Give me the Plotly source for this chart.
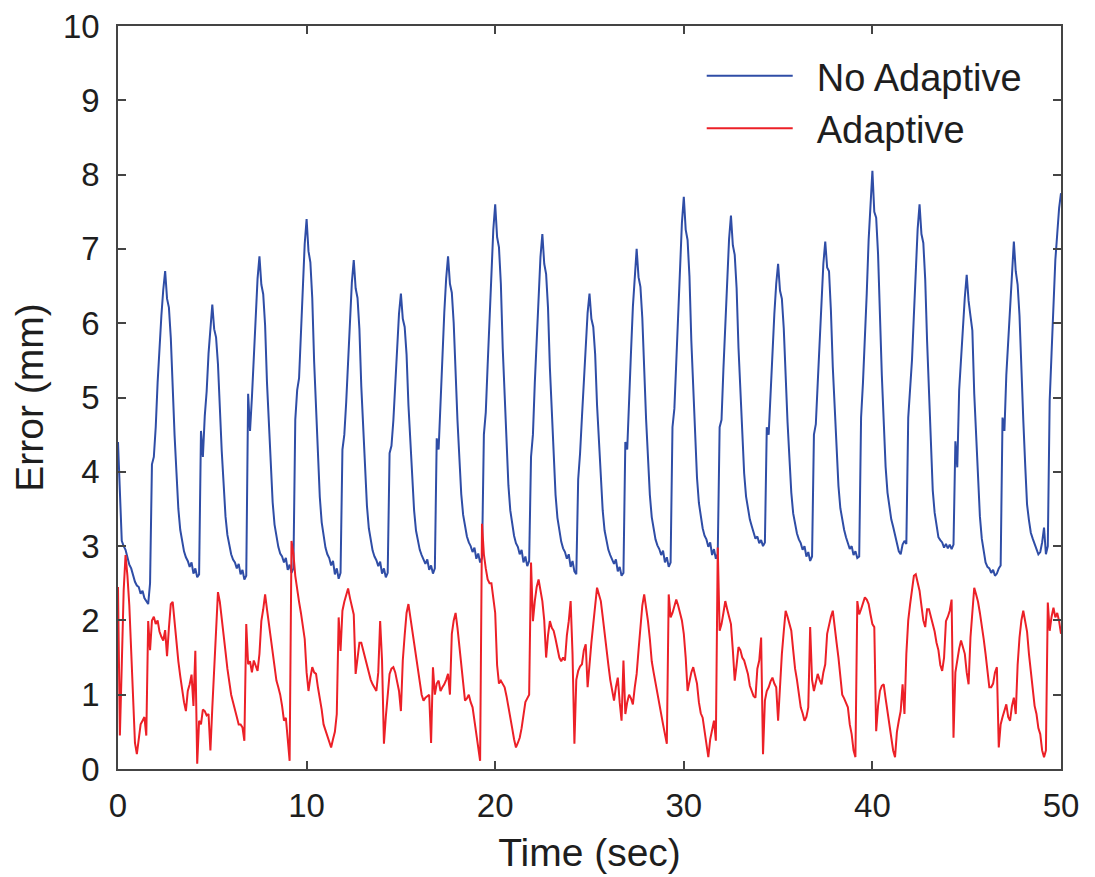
import numpy as np
import plotly.graph_objects as go

SAMPLE_STEP = 0.1  # seconds

# "No Adaptive" error (mm), one row per 2.5 s breathing cycle
no_adaptive_rows = [
    [4.40, 3.60, 3.07, 3.00, 2.95, 2.85, 2.75, 2.70, 2.60, 2.52, 2.47, 2.45, 2.36, 2.40, 2.30, 2.26, 2.22, 2.50, 4.10, 4.20, 4.60, 5.20, 5.70, 6.10, 6.45],
    [6.70, 6.33, 6.21, 5.80, 5.06, 4.49, 3.99, 3.50, 3.22, 3.05, 2.93, 2.85, 2.80, 2.72, 2.78, 2.63, 2.70, 2.58, 2.62, 4.55, 4.20, 4.75, 5.08, 5.59, 5.99],
    [6.25, 5.92, 5.81, 5.45, 4.79, 4.28, 3.84, 3.40, 3.15, 3.00, 2.89, 2.82, 2.78, 2.70, 2.76, 2.62, 2.68, 2.55, 2.60, 5.05, 4.55, 5.00, 5.52, 6.13, 6.60],
    [6.90, 6.52, 6.39, 5.97, 5.20, 4.61, 4.10, 3.59, 3.29, 3.12, 2.99, 2.90, 2.86, 2.78, 2.84, 2.68, 2.75, 2.64, 2.70, 4.70, 5.10, 5.26, 5.88, 6.55, 7.07],
    [7.40, 6.97, 6.82, 6.34, 5.48, 4.81, 4.23, 3.66, 3.32, 3.13, 2.98, 2.89, 2.84, 2.74, 2.80, 2.62, 2.70, 2.56, 2.64, 4.30, 4.50, 4.94, 5.49, 6.09, 6.55],
    [6.85, 6.47, 6.34, 5.92, 5.15, 4.56, 4.05, 3.54, 3.24, 3.07, 2.94, 2.86, 2.81, 2.73, 2.79, 2.63, 2.70, 2.58, 2.64, 4.25, 4.35, 4.69, 5.18, 5.72, 6.13],
    [6.40, 6.06, 5.95, 5.58, 4.90, 4.38, 3.93, 3.48, 3.21, 3.06, 2.95, 2.88, 2.83, 2.76, 2.82, 2.68, 2.74, 2.63, 2.70, 4.45, 4.30, 4.99, 5.54, 6.14, 6.60],
    [6.90, 6.53, 6.41, 6.00, 5.26, 4.69, 4.19, 3.70, 3.42, 3.25, 3.13, 3.05, 3.00, 2.92, 2.98, 2.83, 2.90, 2.78, 2.84, 4.50, 4.80, 5.44, 6.06, 6.74, 7.26],
    [7.60, 7.16, 7.02, 6.53, 5.66, 4.98, 4.40, 3.82, 3.48, 3.28, 3.14, 3.04, 2.99, 2.89, 2.95, 2.78, 2.86, 2.73, 2.80, 4.20, 4.50, 5.20, 5.78, 6.40, 6.89],
    [7.20, 6.80, 6.66, 6.21, 5.40, 4.77, 4.23, 3.69, 3.38, 3.20, 3.06, 2.97, 2.92, 2.83, 2.89, 2.72, 2.80, 2.66, 2.62, 3.90, 4.25, 4.74, 5.22, 5.73, 6.14],
    [6.40, 6.06, 5.95, 5.58, 4.90, 4.38, 3.93, 3.48, 3.21, 3.06, 2.95, 2.88, 2.83, 2.76, 2.82, 2.66, 2.72, 2.60, 2.64, 4.40, 4.30, 5.04, 5.61, 6.22, 6.70],
    [7.00, 6.62, 6.49, 6.07, 5.30, 4.71, 4.20, 3.69, 3.39, 3.22, 3.09, 3.01, 2.96, 2.88, 2.94, 2.78, 2.85, 2.72, 2.78, 4.60, 4.85, 5.47, 6.12, 6.81, 7.35],
    [7.70, 7.26, 7.12, 6.63, 5.76, 5.08, 4.50, 3.92, 3.58, 3.38, 3.24, 3.14, 3.09, 2.99, 3.05, 2.88, 2.96, 2.83, 2.90, 4.60, 4.70, 5.38, 5.98, 6.62, 7.13],
    [7.45, 7.05, 6.92, 6.47, 5.67, 5.05, 4.51, 3.98, 3.67, 3.49, 3.36, 3.27, 3.20, 3.10, 3.13, 3.04, 3.08, 3.00, 3.05, 4.60, 4.50, 5.09, 5.58, 6.12, 6.53],
    [6.80, 6.44, 6.33, 5.93, 5.22, 4.67, 4.19, 3.72, 3.44, 3.28, 3.17, 3.09, 3.04, 2.95, 3.00, 2.86, 2.92, 2.80, 2.86, 4.50, 4.64, 5.19, 5.74, 6.34, 6.80],
    [7.10, 6.75, 6.70, 6.17, 5.41, 4.82, 4.31, 3.81, 3.51, 3.34, 3.22, 3.12, 3.05, 2.96, 3.00, 2.88, 2.93, 2.84, 2.86, 4.73, 5.20, 5.72, 6.40, 7.12, 7.60],
    [8.05, 7.50, 7.42, 6.93, 6.01, 5.30, 4.68, 4.07, 3.72, 3.51, 3.36, 3.26, 3.15, 3.07, 2.93, 2.89, 3.02, 3.07, 3.03, 4.73, 5.10, 5.51, 6.11, 6.76, 7.27],
    [7.60, 7.20, 7.08, 6.59, 5.76, 5.12, 4.35, 3.75, 3.45, 3.25, 3.12, 3.08, 3.05, 2.98, 3.03, 2.97, 3.02, 2.96, 3.02, 4.41, 4.06, 5.10, 5.55, 6.00, 6.35],
    [6.65, 6.30, 6.10, 5.90, 5.05, 4.45, 3.90, 3.40, 3.10, 2.92, 2.78, 2.72, 2.70, 2.64, 2.68, 2.60, 2.63, 2.70, 2.74, 4.73, 4.55, 5.30, 5.76, 6.30, 6.75],
    [7.10, 6.70, 6.52, 6.10, 5.30, 4.70, 4.10, 3.56, 3.35, 3.18, 3.10, 3.02, 2.95, 2.89, 2.92, 3.05, 3.25, 2.89, 3.00, 4.96, 5.60, 6.30, 6.85, 7.20, 7.55],
    [7.75],
]

# "Adaptive" error (mm), one row per second
adaptive_rows = [
    [2.45, 0.45, 1.40, 2.40, 2.88, 2.60, 2.20, 1.60, 1.00, 0.35],
    [0.20, 0.45, 0.60, 0.65, 0.70, 0.45, 1.99, 1.60, 2.00, 2.05],
    [1.95, 2.00, 1.85, 1.78, 1.73, 1.87, 1.52, 1.90, 2.22, 2.25],
    [1.95, 1.70, 1.45, 1.25, 1.05, 0.90, 0.78, 1.05, 1.14, 1.27],
    [0.85, 1.59, 0.07, 0.65, 0.60, 0.80, 0.78, 0.72, 0.74, 0.25],
    [0.82, 1.40, 1.99, 2.38, 2.25, 2.05, 1.80, 1.58, 1.35, 1.15],
    [1.00, 0.90, 0.78, 0.70, 0.60, 0.60, 0.56, 0.38, 1.95, 1.41],
    [1.45, 1.30, 1.46, 1.38, 1.32, 1.55, 1.99, 2.15, 2.35, 2.15],
    [1.95, 1.75, 1.55, 1.35, 1.19, 1.10, 1.00, 0.85, 0.65, 0.69],
    [0.38, 0.11, 3.07, 2.90, 2.60, 2.40, 2.25, 2.10, 1.95, 1.75],
    [1.30, 1.05, 1.23, 1.37, 1.30, 1.28, 1.10, 0.96, 0.80, 0.60],
    [0.52, 0.45, 0.35, 0.29, 0.40, 0.50, 0.74, 2.04, 1.59, 2.13],
    [2.25, 2.35, 2.43, 2.30, 2.20, 2.08, 1.28, 1.50, 1.70, 1.70],
    [1.60, 1.52, 1.40, 1.28, 1.20, 1.14, 1.10, 1.05, 1.30, 1.99],
    [1.46, 0.34, 0.70, 0.95, 1.28, 1.35, 1.37, 1.30, 1.19, 1.05],
    [0.78, 1.46, 1.80, 2.10, 2.22, 2.05, 1.86, 1.72, 1.50, 1.32],
    [1.15, 1.00, 0.92, 0.96, 0.98, 1.00, 0.35, 1.37, 1.00, 1.15],
    [1.19, 1.05, 1.10, 1.14, 1.20, 1.28, 1.00, 1.82, 2.00, 2.10],
    [1.90, 1.64, 1.40, 1.10, 0.92, 0.95, 1.00, 0.90, 0.83, 0.65],
    [0.47, 0.25, 0.11, 3.30, 2.89, 2.70, 2.55, 2.50, 2.50, 2.30],
    [2.10, 1.40, 1.15, 1.19, 1.15, 1.10, 0.98, 0.85, 0.70, 0.55],
    [0.40, 0.29, 0.35, 0.42, 0.55, 0.70, 0.90, 0.95, 1.00, 2.78],
    [1.99, 2.26, 2.45, 2.55, 2.40, 2.26, 2.00, 1.50, 1.80, 1.99],
    [1.90, 1.86, 1.75, 1.60, 1.50, 1.45, 1.50, 1.46, 1.80, 1.99],
    [2.26, 1.55, 0.34, 1.20, 1.32, 1.38, 1.41, 1.60, 1.68, 1.10],
    [1.46, 1.70, 1.95, 2.20, 2.44, 2.35, 2.26, 2.05, 1.80, 1.60],
    [1.40, 1.20, 1.05, 0.92, 1.10, 1.23, 0.90, 0.65, 1.46, 0.74],
    [0.90, 1.00, 0.95, 0.87, 1.10, 1.28, 1.60, 1.95, 2.20, 2.35],
    [2.20, 1.99, 1.75, 1.45, 1.30, 1.15, 1.00, 0.88, 0.74, 0.60],
    [0.47, 0.34, 2.35, 2.04, 2.10, 2.20, 2.28, 2.20, 2.10, 2.00],
    [1.82, 1.50, 1.05, 1.20, 1.30, 1.37, 1.25, 1.15, 0.90, 0.75],
    [0.69, 0.50, 0.30, 0.16, 0.40, 0.51, 0.65, 0.38, 2.98, 1.86],
    [1.95, 2.10, 2.26, 2.15, 2.05, 1.95, 1.60, 1.19, 1.40, 1.64],
    [1.60, 1.50, 1.46, 1.35, 1.28, 1.12, 1.05, 0.98, 0.96, 1.35],
    [1.46, 1.77, 0.20, 0.92, 1.05, 1.10, 1.18, 1.23, 1.15, 1.10],
    [0.65, 1.20, 1.55, 1.85, 2.13, 2.05, 1.95, 1.86, 1.60, 1.35],
    [1.20, 1.00, 0.83, 0.75, 0.65, 0.70, 0.83, 1.91, 1.20, 1.05],
    [1.15, 1.28, 1.20, 1.14, 1.30, 1.41, 1.82, 1.95, 2.05, 2.13],
    [1.95, 1.70, 1.50, 1.25, 1.00, 0.95, 0.88, 0.83, 0.60, 0.47],
    [0.25, 0.16, 2.26, 2.08, 2.15, 2.25, 2.31, 2.28, 2.22, 2.08],
    [1.95, 1.91, 0.51, 0.85, 1.05, 1.12, 1.14, 0.95, 0.78, 0.60],
    [0.47, 0.25, 0.16, 0.50, 0.65, 0.78, 1.14, 0.74, 1.55, 2.00],
    [2.22, 2.40, 2.60, 2.62, 2.50, 2.40, 2.20, 2.00, 1.91, 2.15],
    [2.15, 2.05, 1.95, 1.85, 1.70, 1.60, 1.40, 1.32, 1.50, 1.99],
    [2.05, 2.13, 2.28, 0.42, 1.30, 1.50, 1.62, 1.73, 1.65, 1.55],
    [1.30, 1.14, 1.77, 2.15, 2.44, 2.35, 2.25, 2.10, 1.95, 1.75],
    [1.55, 1.30, 1.10, 1.10, 1.15, 1.30, 1.37, 0.29, 0.60, 0.70],
    [0.80, 0.87, 0.70, 0.65, 0.85, 0.96, 0.74, 1.40, 1.77, 2.00],
    [2.13, 2.00, 1.85, 1.55, 1.30, 1.05, 0.85, 0.74, 0.55, 0.47],
    [0.25, 0.16, 0.25, 2.24, 1.86, 2.05, 2.17, 2.04, 2.10, 1.99],
    [1.82],
]

x_ticks = [0, 10, 20, 30, 40, 50]
y_ticks = [0, 1, 2, 3, 4, 5, 6, 7, 8, 9, 10]
series_names = ["No Adaptive", "Adaptive"]

no_adaptive = [v for row in no_adaptive_rows for v in row]
adaptive = [v for row in adaptive_rows for v in row]
t_no = np.round(np.arange(len(no_adaptive)) * SAMPLE_STEP, 2)
t_ad = np.round(np.arange(len(adaptive)) * SAMPLE_STEP, 2)

BLUE = "#2F4DA6"
RED = "#EC2027"
AXIS = "#444444"
TEXT = "#1E1E1E"
FONT = "Liberation Sans, Arial, sans-serif"
GAP = "\u2002"  # spacing between legend line sample and label

fig = go.Figure()
fig.add_trace(go.Scatter(x=t_no, y=no_adaptive, mode="lines", name=GAP + series_names[0],
                         line=dict(color=BLUE, width=2)))
fig.add_trace(go.Scatter(x=t_ad, y=adaptive, mode="lines", name=GAP + series_names[1],
                         line=dict(color=RED, width=2)))

axis_common = dict(
    showline=True, linecolor=AXIS, linewidth=1.5, mirror="ticks",
    ticks="inside", ticklen=8, tickwidth=1.5, tickcolor=AXIS,
    showgrid=False, zeroline=False, automargin=False,
    ticklabeloverflow="allow",
    tickfont=dict(family=FONT, size=33, color=TEXT),
)

fig.update_layout(
    width=1095, height=877,
    margin=dict(l=110, r=42, t=18, b=116),
    plot_bgcolor="white", paper_bgcolor="white",
    font=dict(family=FONT, color=TEXT),
    showlegend=True,
    legend=dict(
        x=0.619, y=0.975, xanchor="left", yanchor="top",
        bgcolor="rgba(0,0,0,0)", borderwidth=0,
        font=dict(family=FONT, size=38, color=TEXT),
        itemwidth=86,
    ),
    xaxis=dict(range=[0, 50], tickvals=x_ticks,
               title=dict(text="Time (sec)", font=dict(family=FONT, size=39, color=TEXT), standoff=15),
               ticklabelstandoff=7,
               **axis_common),
    yaxis=dict(range=[0, 10], tickvals=y_ticks,
               title=dict(text="Error (mm)", font=dict(family=FONT, size=39, color=TEXT), standoff=23),
               ticklabelstandoff=10,
               **axis_common),
)

fig.write_html("out.html")
